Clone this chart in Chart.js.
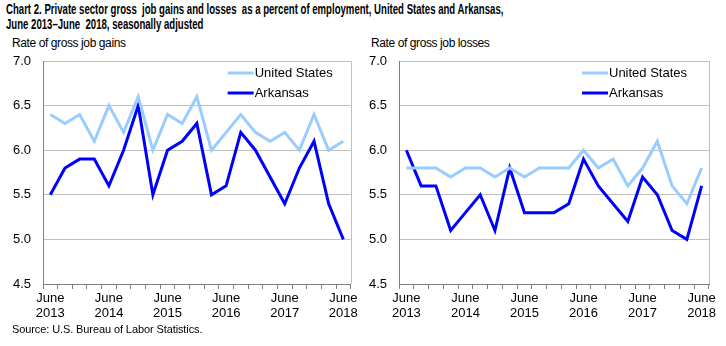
<!DOCTYPE html>
<html>
<head>
<meta charset="utf-8">
<script src="https://cdn.jsdelivr.net/npm/chart.js@4"></script>
<style>
  body { margin: 0; background: #fff; width: 726px; height: 346px; position: relative; overflow: hidden; font-family: 'Liberation Sans', Arial, sans-serif; }
  .title { position: absolute; left: 6px; top: 1px; white-space: nowrap; font-family: 'Liberation Sans Narrow', 'Arial Narrow', 'Liberation Sans', sans-serif; font-weight: bold; font-size: 15px; line-height: 15px; color: #000; transform: scaleX(0.64); transform-origin: 0 0; }
  .axisTitle { position: absolute; top: 36px; font-size: 12px; letter-spacing: -0.4px; color: #000; }
  .source { position: absolute; left: 12px; top: 323px; font-size: 11px; letter-spacing: -0.1px; color: #000; }
  canvas { position: absolute; top: 0; }
</style>
</head>
<body>
<div class="title">Chart 2. Private sector gross&nbsp; job gains and losses&nbsp; as a percent of employment, United States and Arkansas,<br>June 2013&ndash;June&nbsp; 2018, seasonally adjusted</div>
<div class="axisTitle" style="left:12px">Rate of gross job gains</div>
<div class="axisTitle" style="left:371px">Rate of gross job losses</div>
<canvas id="gainsChart" width="360" height="346" style="left:0"></canvas>
<canvas id="lossesChart" width="366" height="346" style="left:360px"></canvas>
<div class="source">Source: U.S. Bureau of Labor Statistics.</div>
<script>
// quarterly, June 2013 .. June 2018
var quarters = ['Jun 2013', 'Sep 2013', 'Dec 2013', 'Mar 2014', 'Jun 2014', 'Sep 2014', 'Dec 2014', 'Mar 2015',
    'Jun 2015', 'Sep 2015', 'Dec 2015', 'Mar 2016', 'Jun 2016', 'Sep 2016', 'Dec 2016', 'Mar 2017',
    'Jun 2017', 'Sep 2017', 'Dec 2017', 'Mar 2018', 'Jun 2018']
var tickLabels = [['June', '2013'], ['June', '2014'], ['June', '2015'], ['June', '2016'], ['June', '2017'], ['June', '2018']]

var gainsUS = [6.4, 6.3, 6.4, 6.1, 6.5, 6.2, 6.6, 6.0, 6.4, 6.3, 6.6, 6.0, 6.2, 6.4, 6.2, 6.1, 6.2, 6.0, 6.4, 6.0, 6.1]
var gainsAR = [5.5, 5.8, 5.9, 5.9, 5.6, 6.0, 6.5, 5.5, 6.0, 6.1, 6.3, 5.5, 5.6, 6.2, 6.0, 5.7, 5.4, 5.8, 6.1, 5.4, 5.0]
var lossesUS = [5.8, 5.8, 5.8, 5.7, 5.8, 5.8, 5.7, 5.8, 5.7, 5.8, 5.8, 5.8, 6.0, 5.8, 5.9, 5.6, 5.8, 6.1, 5.6, 5.4, 5.8]
var lossesAR = [6.0, 5.6, 5.6, 5.1, 5.3, 5.5, 5.1, 5.8, 5.3, 5.3, 5.3, 5.4, 5.9, 5.6, 5.4, 5.2, 5.7, 5.5, 5.1, 5.0, 5.6]

var usColor = '#99ccff'
var arColor = '#0000ff'
var fontFamily = "'Liberation Sans', Arial, sans-serif"

// legend drawn inside the plot, top right, plus the right border of the plot
var insideLegend = {
    id: 'insideLegend',
    afterDraw: function (chart, args, opts) {
        var ctx = chart.ctx
        var area = chart.chartArea
        ctx.save()
        ctx.strokeStyle = '#c0c0c0'
        ctx.lineWidth = 1
        ctx.beginPath()
        ctx.moveTo(Math.round(area.right) + 0.5, area.top)
        ctx.lineTo(Math.round(area.right) + 0.5, area.bottom)
        ctx.stroke()
        ctx.font = '13px ' + fontFamily
        ctx.textBaseline = 'middle'
        chart.data.datasets.forEach(function (ds, i) {
            var y = area.top + 12 + i * 20
            var x0 = area.right - opts.offset
            ctx.strokeStyle = ds.borderColor
            ctx.lineWidth = 3
            ctx.beginPath()
            ctx.moveTo(x0, y)
            ctx.lineTo(x0 + 26, y)
            ctx.stroke()
            ctx.fillStyle = '#000'
            ctx.fillText(ds.label, x0 + 27, y)
        })
        ctx.restore()
    }
}

window.makeRateChart = function (idSelectorName, usValues, arValues, yWidth, rightPad, legendOffset) {
    var canvas = document.getElementById(idSelectorName).getContext('2d')

    var chartData = {
        labels: quarters,
        datasets: [
            { label: 'United States', data: usValues, borderColor: usColor, backgroundColor: usColor },
            { label: 'Arkansas', data: arValues, borderColor: arColor, backgroundColor: arColor }
        ]
    }

    var chartOptions = {
        responsive: false,
        animation: false,
        layout: { padding: { top: 61, right: rightPad, left: 0, bottom: 0 } },
        elements: {
            line: { borderWidth: 3, tension: 0, borderJoinStyle: 'miter' },
            point: { radius: 0 }
        },
        plugins: {
            legend: { display: false },
            tooltip: { enabled: false },
            insideLegend: { offset: legendOffset }
        },
        scales: {
            x: {
                offset: true,
                grid: { offset: true, drawOnChartArea: false, drawTicks: true, tickLength: 5, color: '#808080' },
                border: { color: '#808080' },
                ticks: {
                    autoSkip: false,
                    maxRotation: 0,
                    padding: 2,
                    color: '#000',
                    font: { family: fontFamily, size: 13, lineHeight: 1.15 },
                    callback: function (value, index) {
                        return index % 4 === 0 ? tickLabels[index / 4] : ''
                    }
                },
                afterFit: function (scale) { scale.height = 62 }
            },
            y: {
                min: 4.5,
                max: 7.0,
                ticks: {
                    stepSize: 0.5,
                    padding: 12,
                    color: '#000',
                    font: { family: fontFamily, size: 13 },
                    callback: function (value) { return value.toFixed(1) }
                },
                grid: { color: '#c0c0c0', drawTicks: false },
                border: { color: '#808080' },
                afterFit: function (scale) { scale.width = yWidth }
            }
        }
    }

    // eslint-disable-next-line no-unused-vars
    var rateChart = new Chart(canvas, {
        type: 'line',
        data: chartData,
        options: chartOptions,
        plugins: [insideLegend]
    })
}

makeRateChart('gainsChart', gainsUS, gainsAR, 43, 9, 123)
makeRateChart('lossesChart', lossesUS, lossesAR, 39, 17, 127)
</script>
</body>
</html>
